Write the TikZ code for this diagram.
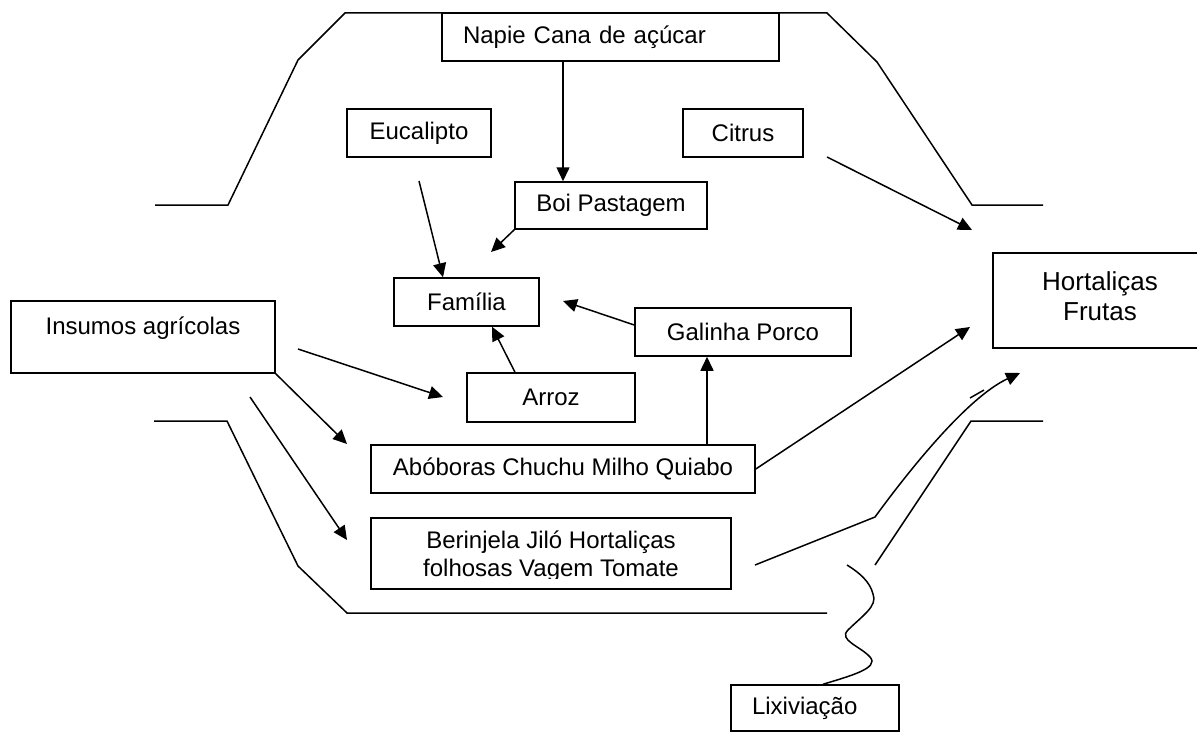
\documentclass[tikz,border=0pt]{standalone}
\usepackage{fontspec}
\setmainfont{Liberation Sans}
\usetikzlibrary{arrows.meta}
\begin{document}
\begin{tikzpicture}[x=0.5pt,y=-0.5pt,
  box/.style={draw, line width=0.75pt, inner sep=0pt, font=\fontsize{12}{14}\selectfont, align=center},
  txt/.style={inner sep=0pt, font=\fontsize{12}{14}\selectfont, align=center},
  edge/.style={line width=0.75pt},
  arr/.style={edge, -{Triangle[length=7pt,width=6.5pt]}},
  ]
\useasboundingbox (0,0) rectangle (1197,733);

% outlines
\draw[edge] (155,205)--(228,205)--(298,60)--(345,13)--(827,13)--(877,62)--(972,205)--(1043,205);
\draw[edge] (154,421)--(227,421)--(298,566)--(347,613)--(827,613);
\draw[edge] (875,565)--(971,421)--(1043,421);

% boxes
\node[box, fill=white, minimum height=24pt, text width=147.5pt, inner xsep=10.5pt, align=left] (napie) at (610.5,37) {Napie Cana de açúcar};
\node[box, minimum width=96pt, minimum height=23.5pt] (boi) at (611,205.5) {Boi Pastagem};
\node[box, minimum width=72pt, minimum height=24pt] (euc) at (419,133) {Eucalipto};
\node[box, minimum width=60pt, minimum height=24pt] (citrus) at (743,133) {Citrus};
\node[box, minimum width=72.5pt, minimum height=24pt] (familia) at (466.5,302) {Família};
\node[box, minimum width=108pt, minimum height=24pt] (galinha) at (743,332) {Galinha Porco};
\node[box, minimum width=84pt, minimum height=24.5pt] (arroz) at (551,397.5) {Arroz};
\node[box, minimum width=132pt, text height=16.75pt, text depth=19.25pt] (insumos) at (143,337) {Insumos agrícolas};
\node[box, minimum width=107pt, minimum height=47.5pt] (hort) at (1100,300.5) {};
\node[txt, font=\fontsize{13}{15}\selectfont] (horttext) at (1100,296) {Hortaliças\\Frutas};
\node[box, minimum width=192pt, minimum height=24pt] (abob) at (563,469) {Abóboras Chuchu Milho Quiabo};
\node[box, minimum width=180pt, minimum height=35.5pt] (berbox) at (551,553.5) {};
\begin{scope}
  \clip (371,505) rectangle (731,578.5);
  \node[txt] (bertext) at (551,556) {Berinjela Jiló Hortaliças\\folhosas Vagem Tomate};
\end{scope}
\node[box, minimum height=23pt, text width=63pt, inner xsep=10.5pt, align=left] (lix) at (815,708) {Lixiviação};

% free ends
\coordinate (boiend) at (491,252);
\coordinate (eucstart) at (419,181);
\coordinate (citstart) at (827,157);
\coordinate (citend) at (972,230);
\coordinate (galend) at (563,301);
\coordinate (abobend) at (970,327);
\coordinate (ins1s) at (298,349);
\coordinate (ins1e) at (443,397);
\coordinate (ins2e) at (347,444);
\coordinate (ins3s) at (250,397);
\coordinate (ins3e) at (347,540);
\coordinate (bers) at (755,565);
\coordinate (berk) at (875,517);
\coordinate (bere) at (1020,373);
\coordinate (lixs) at (847,565);

% connectors
\draw[arr] (563,0 |- napie.south) -- (563,0 |- boi.north);
\draw[arr] (boi.south west) -- (boiend);
\draw[arr] (eucstart) -- (443,0 |- familia.north);
\draw[arr] (citstart) -- (citend);
\draw[arr] (galinha.west |- 0,325) -- (galend);
\draw[arr] (515,0 |- arroz.north) -- (492,0 |- familia.south);
\draw[arr] (707,0 |- abob.north) -- (707,0 |- galinha.south);
\draw[arr] (abob.east) -- (abobend);
\draw[arr] (ins1s) -- (ins1e);
\draw[arr] (insumos.south east) -- (ins2e);
\draw[arr] (ins3s) -- (ins3e);
\draw[arr] (bers) -- (berk) .. controls (910,469) and (968,397) .. (bere);
\draw[edge] (970,398) -- (984,390);
\draw[edge] (823,0 |- lix.north) .. controls (850,676) and (880,668) .. (870,657)
  .. controls (860,646) and (838,640) .. (848,630)
  .. controls (862,616) and (878,606) .. (873,594)
  .. controls (870,582) and (860,573) .. (lixs);
\end{tikzpicture}
\end{document}
